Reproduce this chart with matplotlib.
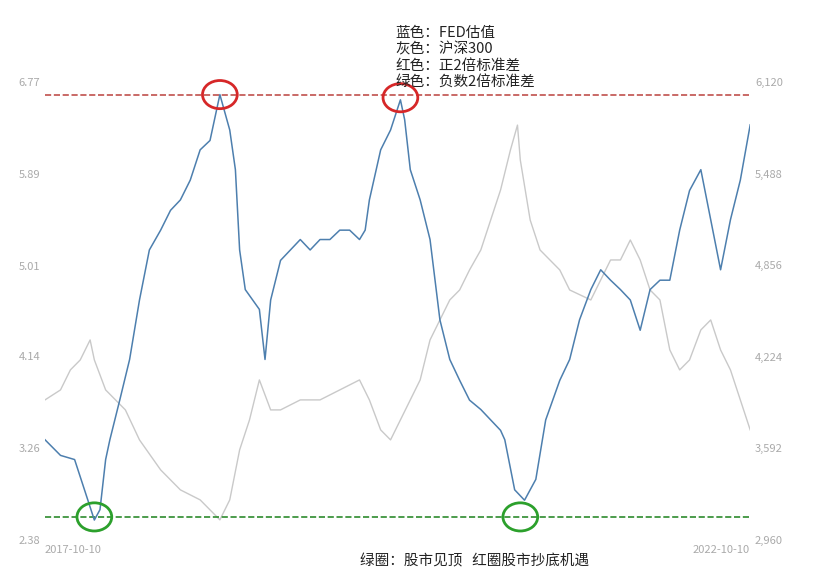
import matplotlib.pyplot as plt
import matplotlib.patches as mpatches
import numpy as np
import pandas as pd

plt.rcParams['font.family'] = ['Noto Sans CJK SC', 'DejaVu Sans']

# years after 2017-10-10
fed_t = [0.0, 0.11, 0.21, 0.28, 0.35, 0.39, 0.43, 0.46, 0.53, 0.6, 0.67, 0.74, 0.82, 0.89, 0.96,
         1.03, 1.1, 1.17, 1.24, 1.31, 1.35, 1.38, 1.42, 1.52, 1.56, 1.6, 1.67, 1.74, 1.81, 1.88,
         1.95, 2.02, 2.09, 2.16, 2.23, 2.27, 2.3, 2.38, 2.45, 2.52, 2.55, 2.59, 2.66, 2.73, 2.8,
         2.87, 2.94, 3.01, 3.09, 3.16, 3.23, 3.26, 3.33, 3.4, 3.48, 3.55, 3.65, 3.72, 3.79, 3.87,
         3.94, 4.01, 4.08, 4.15, 4.22, 4.29, 4.36, 4.43, 4.5, 4.57, 4.65, 4.72, 4.79, 4.86, 4.93, 5.0]
fed = [3.34, 3.19, 3.15, 2.86, 2.57, 2.67, 3.15, 3.34, 3.72, 4.11, 4.68, 5.16, 5.35, 5.54, 5.64,
       5.83, 6.12, 6.21, 6.65, 6.31, 5.93, 5.16, 4.78, 4.59, 4.11, 4.68, 5.06, 5.16, 5.26, 5.16,
       5.26, 5.26, 5.35, 5.35, 5.26, 5.35, 5.64, 6.12, 6.31, 6.60, 6.41, 5.93, 5.64, 5.26, 4.49,
       4.11, 3.91, 3.72, 3.63, 3.53, 3.43, 3.34, 2.86, 2.76, 2.96, 3.53, 3.91, 4.11, 4.49, 4.78,
       4.97, 4.87, 4.78, 4.68, 4.39, 4.78, 4.87, 4.87, 5.35, 5.73, 5.93, 5.45, 4.97, 5.45, 5.83, 6.36]

hs_t = [0.0, 0.11, 0.18, 0.25, 0.32, 0.35, 0.43, 0.5, 0.57, 0.67, 0.82, 0.96, 1.1, 1.24, 1.31,
        1.38, 1.45, 1.52, 1.6, 1.67, 1.81, 1.95, 2.09, 2.23, 2.3, 2.38, 2.45, 2.52, 2.59, 2.66,
        2.73, 2.8, 2.87, 2.94, 3.01, 3.09, 3.16, 3.23, 3.3, 3.35, 3.37, 3.44, 3.51, 3.58, 3.65,
        3.72, 3.87, 4.01, 4.08, 4.15, 4.22, 4.29, 4.36, 4.43, 4.5, 4.57, 4.65, 4.72, 4.79, 4.86, 5.0]
hs300 = [3926, 3995, 4133, 4202, 4340, 4202, 3995, 3926, 3857, 3650, 3443, 3305, 3236, 3098, 3236,
         3581, 3788, 4064, 3857, 3857, 3926, 3926, 3995, 4064, 3926, 3719, 3650, 3788, 3926, 4064,
         4340, 4478, 4616, 4685, 4823, 4961, 5168, 5375, 5651, 5823, 5582, 5168, 4961, 4892, 4823,
         4685, 4616, 4892, 4892, 5030, 4892, 4685, 4616, 4271, 4133, 4202, 4409, 4478, 4271, 4133, 3719]

upper_band = 6.65
lower_band = 2.60
left_ticks = [2.38, 3.26, 4.14, 5.01, 5.89, 6.77]
right_ticks = [2960, 3592, 4224, 4856, 5488, 6120]

start = pd.Timestamp('2017-10-10')
to_date = lambda ts: [start + pd.Timedelta(days=t * 365.25) for t in ts]
end = pd.Timestamp('2022-10-10')

fig = plt.figure(figsize=(8.18, 5.78), dpi=100)
ax = fig.add_axes([0.055, 0.066, 0.862, 0.792])
ax2 = ax.twinx()
ax2.plot(to_date(hs_t), hs300, color='#c9c9c9', lw=1.0)
ax.plot(to_date(fed_t), fed, color='#4d7fae', lw=1.1, zorder=3)
ax.set_zorder(ax2.get_zorder() + 1)
ax.patch.set_visible(False)

ax.axhline(upper_band, color='#c0504d', ls='--', lw=1.2)
ax.axhline(lower_band, color='#2e8b2e', ls='--', lw=1.2)

ax.set_xlim(start, end)
ax.set_ylim(2.38, 6.77)
ax2.set_ylim(2960, 6120)
ax.set_yticks(left_ticks, [f'{v:.2f}' for v in left_ticks])
ax2.set_yticks(right_ticks, [f'{v:,}' for v in right_ticks])
ax.set_xticks([start, end], ['2017-10-10', '2022-10-10'])
for a in (ax, ax2):
    for s in a.spines.values():
        s.set_visible(False)
    a.tick_params(length=0, colors='#aaaaaa', labelsize=8)
ax.get_xticklabels()[0].set_ha('left')
ax.get_xticklabels()[1].set_ha('right')

# circles at extremes
for t, v, c in [(1.24, 6.65, '#d62728'), (2.52, 6.62, '#d62728'),
                (0.35, 2.60, '#2ca02c'), (3.37, 2.60, '#2ca02c')]:
    x = start + pd.Timedelta(days=t * 365.25)
    e = mpatches.Ellipse((pd.Timestamp(x).to_pydatetime(), v), width=90, height=0.27,
                         fill=False, edgecolor=c, lw=2, zorder=5, clip_on=False)
    ax.add_patch(e)

fig.text(0.483, 0.955, '蓝色：FED估值\n灰色：沪深300\n红色：正2倍标准差\n绿色：负数2倍标准差',
         fontsize=10.5, va='top', linespacing=1.2, color='#222222')
fig.text(0.44, 0.022, '绿圈：股市见顶   红圈股市抄底机遇', fontsize=10.5, color='#222222')

fig.savefig('out.png', dpi=100)
